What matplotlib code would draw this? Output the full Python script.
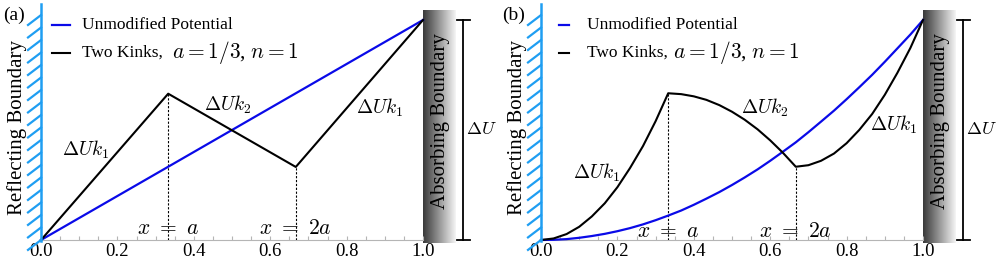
import numpy as np
import matplotlib
matplotlib.use('Agg')
import matplotlib.pyplot as plt
from matplotlib.ticker import MultipleLocator, FormatStrFormatter

plt.rcParams['font.family'] = ['Liberation Serif', 'DejaVu Serif']
plt.rcParams['mathtext.fontset'] = 'cm'

# --- DATA ---
# panel (a): straight segments
xa_unmod = [0.0, 1.0]
ya_unmod = [0.0, 1.0]
xa_kinks = [0.0, 0.333, 0.667, 1.0]
ya_kinks = [0.0, 0.665, 0.332, 1.0]

# panel (b): curves
xb = [0.0, 0.033, 0.067, 0.1, 0.133, 0.167, 0.2, 0.233, 0.267, 0.3, 0.333,
      0.367, 0.4, 0.433, 0.467, 0.5, 0.533, 0.567, 0.6, 0.633, 0.667,
      0.7, 0.733, 0.767, 0.8, 0.833, 0.867, 0.9, 0.933, 0.967, 1.0]
yb_unmod = [0.0, 0.001, 0.004, 0.010, 0.018, 0.028, 0.040, 0.054, 0.071, 0.090, 0.111,
            0.134, 0.160, 0.188, 0.218, 0.250, 0.284, 0.321, 0.360, 0.401, 0.444,
            0.490, 0.538, 0.588, 0.640, 0.694, 0.751, 0.810, 0.871, 0.934, 1.0]
yb_kinks = [0.0, 0.007, 0.027, 0.060, 0.107, 0.167, 0.240, 0.327, 0.427, 0.540, 0.667,
            0.663, 0.653, 0.637, 0.613, 0.583, 0.547, 0.503, 0.453, 0.397, 0.333,
            0.340, 0.360, 0.393, 0.440, 0.500, 0.573, 0.660, 0.760, 0.873, 1.0]

kink_x = [0.333, 0.667]
xticks = [0.0, 0.2, 0.4, 0.6, 0.8, 1.0]

BLUE_WALL = '#1f9ef2'
BLUE_LINE = '#0a0ae8'

fig = plt.figure(figsize=(9.97, 2.58), dpi=100)
W, H = 997.0, 258.0


def make_axes(x0_px):
    return fig.add_axes([x0_px / W, 18 / H, 382 / W, 220 / H])


def draw_panel(ax, xu, yu, xk, yk, panel_label, leg_h, leg_t, leg_m, lab_pos):
    ax.set_xlim(0, 1)
    ax.set_ylim(0, 1)
    for s in ['top', 'left', 'right']:
        ax.spines[s].set_visible(False)
    ax.spines['bottom'].set_color('#b5b5b5')
    ax.spines['bottom'].set_linewidth(0.8)
    ax.set_yticks([])
    ax.set_xticks(xticks)
    ax.xaxis.set_major_formatter(FormatStrFormatter('%.1f'))
    ax.xaxis.set_minor_locator(MultipleLocator(0.05))
    ax.tick_params(axis='x', which='both', direction='in', color='#b5b5b5',
                   length=3, width=0.8, labelsize=13.5, pad=2)
    ax.patch.set_alpha(0)

    # curves
    ax.plot(xu, yu, color=BLUE_LINE, lw=1.6, zorder=4, clip_on=False)
    ax.plot(xk, yk, color='black', lw=1.5, zorder=4, clip_on=False)

    # dashed markers at kinks
    for kx in kink_x:
        ky = np.interp(kx, xk, yk)
        ax.plot([kx, kx], [0, ky], color='black', lw=0.8,
                linestyle=(0, (2, 1.5)), zorder=3)

    # reflecting wall with hatching
    ax.plot([0, 0], [-0.005, 1.073], color=BLUE_WALL, lw=1.8, clip_on=False, zorder=5)
    for hy in np.arange(0, 1.03, 0.0568):
        ax.plot([0, -0.034], [hy, hy - 0.045], color=BLUE_WALL, lw=1.6,
                clip_on=False, zorder=5)
    ax.text(-0.063, 0.51, 'Reflecting Boundary', rotation=90, ha='center',
            va='center', fontsize=15)

    # absorbing wall (grey gradient)
    grad = np.linspace(0, 1, 256).reshape(1, -1)
    ax.imshow(grad, cmap='gray', vmin=-0.3, vmax=1.05, aspect='auto',
              extent=[1.0, 1.084, -0.014, 1.045], clip_on=False, zorder=1)
    ax.text(1.045, 0.54, 'Absorbing Boundary', rotation=90, ha='center',
            va='center', fontsize=15, zorder=6)

    # delta U bracket
    ax.plot([1.106, 1.106], [0, 1], color='black', lw=1.3, clip_on=False)
    ax.plot([1.089, 1.123], [1, 1], color='black', lw=1.3, clip_on=False)
    ax.plot([1.089, 1.123], [0, 0], color='black', lw=1.3, clip_on=False)
    ax.text(1.113, 0.5, r'$\Delta U$', ha='left', va='center', fontsize=13)

    # legend
    ax.plot(leg_h, [0.977, 0.977], color=BLUE_LINE, lw=1.6,
            transform=ax.transAxes, clip_on=False)
    ax.plot(leg_h, [0.85, 0.85], color='black', lw=1.5,
            transform=ax.transAxes, clip_on=False)
    ax.text(leg_t, 0.977, 'Unmodified Potential', transform=ax.transAxes,
            ha='left', va='center', fontsize=12.5)
    ax.text(leg_t, 0.85, 'Two Kinks,', transform=ax.transAxes,
            ha='left', va='center', fontsize=12.5)
    ax.text(leg_m, 0.85, r'$a=1/3$, $n=1$', transform=ax.transAxes,
            ha='left', va='center', fontsize=15.5)

    # annotations
    texts = [r'$\Delta U k_1$', r'$\Delta U k_2$', r'$\Delta U k_1$',
             r'$x\ =\ a$', r'$x\ =\ 2a$']
    sizes = [14, 14, 14, 15.5, 15.5]
    for t, s, (px, py) in zip(texts, sizes, lab_pos):
        ax.text(px, py, t, ha='center', va='center', fontsize=s, zorder=6)

    fig.text(panel_label[1] / W, 1 - 15 / H, panel_label[0], ha='center',
             va='center', fontsize=14)


ax_a = make_axes(41)
draw_panel(ax_a, xa_unmod, ya_unmod, xa_kinks, ya_kinks, ('(a)', 14),
           [0.029, 0.076], 0.107, 0.343,
           [(0.118, 0.41), (0.49, 0.614), (0.887, 0.60), (0.333, 0.05), (0.667, 0.05)])

ax_b = make_axes(541)
draw_panel(ax_b, xb, yb_unmod, xb, yb_kinks, ('(b)', 514),
           [0.047, 0.073], 0.120, 0.346,
           [(0.145, 0.305), (0.586, 0.60), (0.922, 0.523), (0.333, 0.036), (0.667, 0.036)])

fig.savefig('out.png', dpi=100)
